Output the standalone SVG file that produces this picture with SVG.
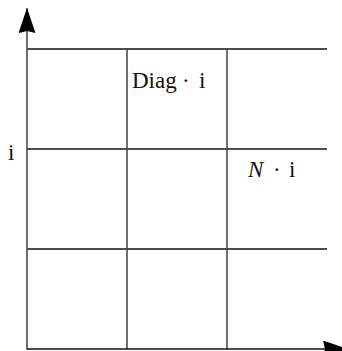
<svg xmlns="http://www.w3.org/2000/svg" width="342" height="351" viewBox="0 0 342 351">
<style>
.h{stroke:#111;stroke-width:1.3;fill:none}
.v{stroke:#4a4a4a;stroke-width:1.6;fill:none}
.t{font-family:"Liberation Serif","Times New Roman",serif;font-size:23px;fill:#111}
</style>
<defs>
<marker id="ah" markerWidth="26" markerHeight="17" refX="25" refY="8.5" orient="auto" markerUnits="userSpaceOnUse">
<path d="M0,0 L25,8.5 L0,17 L2,8.5 Z" fill="#000"/>
</marker>
</defs>
<rect width="342" height="351" fill="#fff"/>
<g id="connectors">
<line class="h" x1="27" y1="49" x2="327" y2="49"/>
<line class="h" x1="27" y1="149" x2="327" y2="149"/>
<line class="h" x1="27" y1="249" x2="327" y2="249"/>
<line class="v" x1="127" y1="49" x2="127" y2="349"/>
<line class="v" x1="227" y1="49" x2="227" y2="349"/>
<line class="v" x1="27" y1="349.5" x2="27" y2="8" marker-end="url(#ah)"/>
<line class="h" x1="27" y1="349" x2="348" y2="349" marker-end="url(#ah)"/>
</g>
<g id="label-diag"><text class="t" y="88"><tspan x="132">Diag</tspan><tspan x="182">·</tspan><tspan x="199">i</tspan></text></g>
<g id="label-n"><text class="t" y="177"><tspan x="248" font-style="italic">N</tspan><tspan x="273">·</tspan><tspan x="289">i</tspan></text></g>
<g id="label-i"><text class="t" x="8" y="160">i</text></g>
</svg>
